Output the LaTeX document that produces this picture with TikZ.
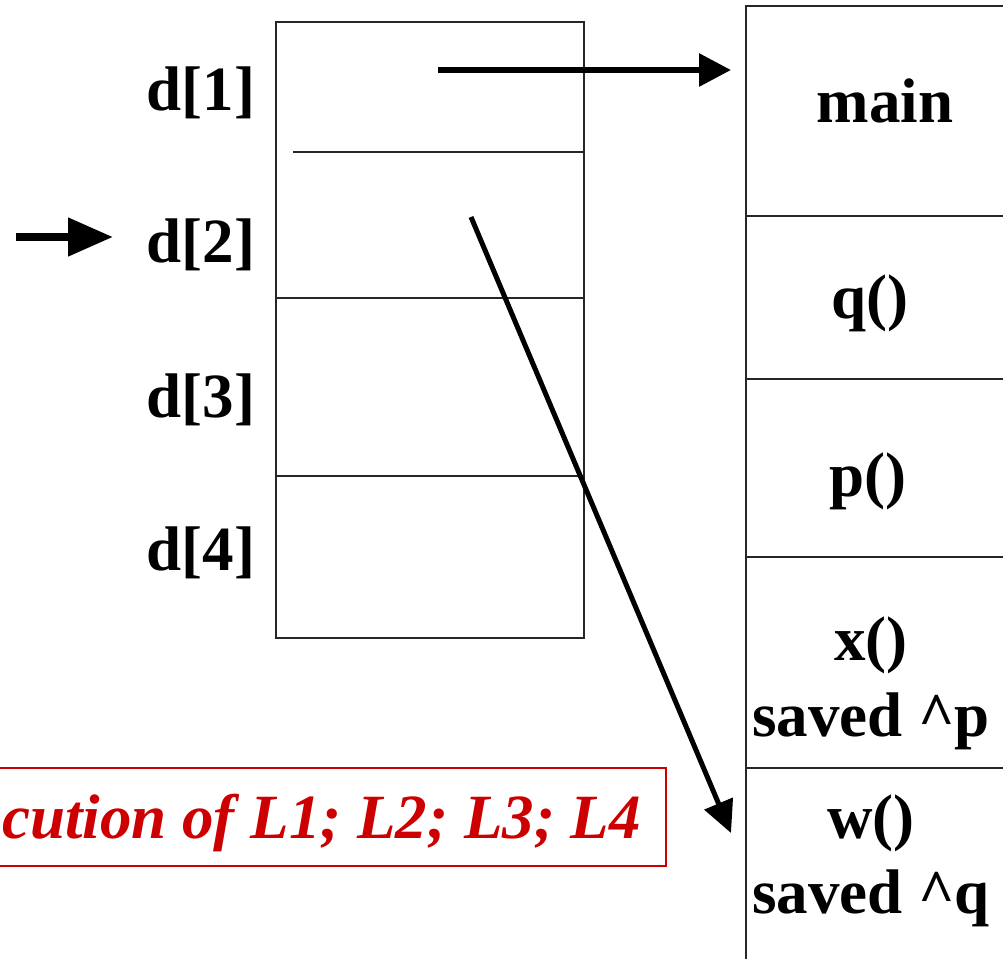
\documentclass[tikz,border=0pt]{standalone}
\usepackage{fontspec}
\setmainfont{Liberation Serif}
\usetikzlibrary{arrows.meta}
\definecolor{notered}{HTML}{CC0000}
\begin{document}
\begin{tikzpicture}[x=1pt,y=-1pt,
  lbl/.style={font=\fontsize{63}{75}\selectfont\bfseries, inner sep=0pt},
  notelbl/.style={font=\fontsize{63}{75}\selectfont\bfseries\itshape, text=notered, inner sep=0pt},
  frame/.style={line width=1.5pt, draw=black!85},
  noteframe/.style={line width=1.5pt, draw=notered},
  arrowA/.style={line width=6pt, -{Triangle[length=32pt,width=32pt]}},
  arrowB/.style={line width=8pt, -{Triangle[length=45pt,width=37pt]}},
  arrowC/.style={line width=5pt, -{Triangle[length=32pt,width=30pt]}},
]
\useasboundingbox (0,0) rectangle (1003,959);

% left array d[1..4]
\draw[frame] (276,22) rectangle (584,638);
\draw[frame] (293,152) -- (584,152);
\draw[frame] (276,298) -- (584,298);
\draw[frame] (276,476) -- (584,476);

\node[lbl, anchor=base] (d1) at (201,110) {d[1]};
\node[lbl, anchor=base] (d2) at (201,262) {d[2]};
\node[lbl, anchor=base] (d3) at (201,417) {d[3]};
\node[lbl, anchor=base] (d4) at (201,570) {d[4]};

% right stack
\draw[frame] (1003,6) -- (746,6) -- (746,959);
\draw[frame] (746,216) -- (1003,216);
\draw[frame] (746,379) -- (1003,379);
\draw[frame] (746,557) -- (1003,557);
\draw[frame] (746,768) -- (1003,768);

\node[lbl, anchor=base] (fmain) at (885,122) {main};
\node[lbl, anchor=base] (fq) at (870,318) {q()};
\node[lbl, anchor=base] (fp) at (868,496) {p()};
\node[lbl, anchor=base] (fx) at (871,660) {x()};
\node[lbl, anchor=base] (fxs) at (871,736) {saved \textasciicircum p};
\node[lbl, anchor=base] (fw) at (871,838) {w()};
\node[lbl, anchor=base] (fws) at (871,913) {saved \textasciicircum q};

% arrows
\coordinate (a1s) at (438,70);
\coordinate (a1e) at (731,70);
\draw[arrowA] (a1s) -- (a1e);

\coordinate (a2s) at (16,237);
\coordinate (a2e) at (113,237);
\draw[arrowB] (a2s) -- (a2e);

\coordinate (a3s) at (471,217);
\coordinate (a3e) at (731,833);
\draw[arrowC] (a3s) -- (a3e);

% note
\node[notelbl, anchor=base east] (note) at (641,838) {cution of L1; L2; L3; L4};
\draw[noteframe] (0,768) -- (666,768) -- (666,866) -- (0,866);
\end{tikzpicture}
\end{document}
